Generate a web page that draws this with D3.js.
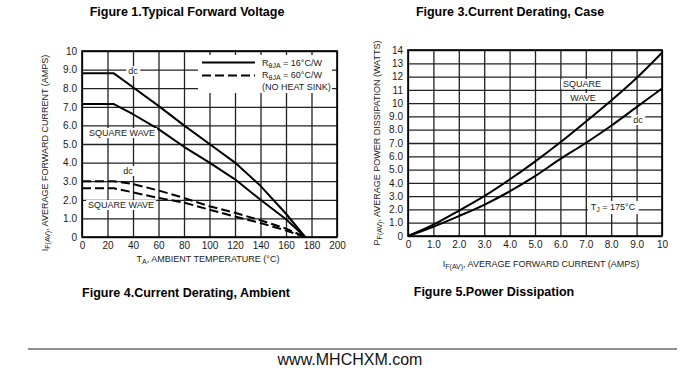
<!DOCTYPE html>
<html lang="en">
<head>
<meta charset="UTF-8">
<title>Current Derating / Power Dissipation</title>
<script src="https://d3js.org/d3.v7.min.js"></script>
<style>
    body { margin: 0; background: #fff; }
    svg { display: block; }
    text { font-family: "Liberation Sans Narrow", "Liberation Sans", Arial, sans-serif; fill: #1a1a1a; }
    .title { font-family: "Liberation Sans", Arial, sans-serif; font-weight: bold; font-size: 12.5px; fill: #000; }
    .tick text { font-size: 10px; }
    .axt { font-size: 9px; }
    .note { font-size: 9px; }
    .site { font-family: "Liberation Sans", Arial, sans-serif; font-size: 16px; fill: #111; }
</style>
</head>
<body>
<svg id="chart" width="700" height="371"></svg>
<script>
// Figure 4 - current derating, ambient
const ambientTemp = [0, 25, 40, 60, 80, 100, 120, 140, 160, 175];
const dcHeatSink = [8.8, 8.8, 8.05, 7.05, 6.0, 5.0, 4.0, 2.75, 1.25, 0];
const squareHeatSink = [7.15, 7.15, 6.6, 5.8, 4.85, 4.0, 3.1, 2.0, 0.95, 0];
const dcNoSink = [3.0, 3.0, 2.85, 2.5, 2.1, 1.65, 1.3, 0.9, 0.45, 0];
const squareNoSink = [2.62, 2.62, 2.4, 2.1, 1.85, 1.47, 1.1, 0.75, 0.35, 0];
const tempTicks = [0, 20, 40, 60, 80, 100, 120, 140, 160, 180, 200];
const ampTicks = [0, 1, 2, 3, 4, 5, 6, 7, 8, 9, 10];

// Figure 5 - power dissipation
const avgCurrent = [0, 1, 2, 3, 4, 5, 6, 7, 8, 9, 10];
const pwrSquare = [0, 0.85, 1.9, 3.0, 4.25, 5.6, 7.05, 8.6, 10.2, 11.9, 13.8];
const pwrDc = [0, 0.7, 1.5, 2.35, 3.35, 4.5, 5.8, 7.0, 8.3, 9.7, 11.1];
const wattTicks = [0, 1, 2, 3, 4, 5, 6, 7, 8, 9, 10, 11, 12, 13, 14];

const svg = d3.select("#chart");
const fmt = d => d === 0 ? "0" : (d < 10 ? d.toFixed(1) : String(d));

function drawFrame(x, y, xTicks, yTicks, xFmt, yFmt) {
    const [x0, x1] = x.range();
    const [y0, y1] = y.range();
    const g = svg.append("g");
    // grid + labels through d3 axes
    g.append("g")
        .attr("transform", `translate(0,${y0})`)
        .call(d3.axisBottom(x).tickValues(xTicks).tickFormat(xFmt).tickSize(-(y0 - y1)).tickPadding(5))
        .call(a => a.select(".domain").remove())
        .call(a => a.selectAll(".tick line").attr("stroke", "#222").attr("stroke-width", 1.3))
        .call(a => a.selectAll(".tick text").attr("fill", "#1a1a1a"));
    g.append("g")
        .attr("transform", `translate(${x0},0)`)
        .call(d3.axisLeft(y).tickValues(yTicks).tickFormat(yFmt).tickSize(-(x1 - x0)).tickPadding(5))
        .call(a => a.select(".domain").remove())
        .call(a => a.selectAll(".tick line").attr("stroke", "#222").attr("stroke-width", 1.3))
        .call(a => a.selectAll(".tick text").attr("fill", "#1a1a1a"));
    g.append("rect")
        .attr("x", x0).attr("y", y1)
        .attr("width", x1 - x0).attr("height", y0 - y1)
        .attr("fill", "none").attr("stroke", "#000").attr("stroke-width", 1.6);
    return g;
}

function label(txt, x, y, opts = {}) {
    const t = svg.append("text")
        .attr("x", x).attr("y", y)
        .attr("class", opts.cls || "note")
        .attr("text-anchor", opts.anchor || "start")
        .text(txt);
    if (opts.bg) {
        const b = t.node().getBBox();
        svg.insert("rect", () => t.node())
            .attr("x", b.x - 2).attr("y", b.y)
            .attr("width", b.width + 4).attr("height", b.height)
            .attr("fill", "#fff");
    }
    return t;
}

// text with a subscript part: [main, sub, rest]
function subText(parts, attrs) {
    const t = svg.append("text").attr("class", attrs.cls || "note")
        .attr("text-anchor", attrs.anchor || "start");
    if (attrs.transform) t.attr("transform", attrs.transform);
    else t.attr("x", attrs.x).attr("y", attrs.y);
    t.append("tspan").text(parts[0]);
    t.append("tspan").attr("dy", 2).attr("font-size", 7).text(parts[1]);
    t.append("tspan").attr("dy", -2).text(parts[2]);
    return t;
}

// ---------- Figure 4 ----------
const xA = d3.scaleLinear().domain([0, 200]).range([82, 337]);
const yA = d3.scaleLinear().domain([0, 10]).range([237, 51]);
drawFrame(xA, yA, tempTicks, ampTicks, d => String(d), fmt);

// sharp knee at 25 °C, so plain linear segments
const lineA = d3.line().x(d => xA(d[0])).y(d => yA(d[1]));
const seriesA = [
    { v: dcHeatSink, dash: null },
    { v: squareHeatSink, dash: null },
    { v: dcNoSink, dash: "9,4" },
    { v: squareNoSink, dash: "9,4" }
];
seriesA.forEach(s => {
    svg.append("path")
        .datum(ambientTemp.map((t, i) => [t, s.v[i]]))
        .attr("d", lineA)
        .attr("fill", "none")
        .attr("stroke", "#000")
        .attr("stroke-width", 2)
        .attr("stroke-linejoin", "round")
        .attr("stroke-dasharray", s.dash);
});

label("dc", 133, 74, { anchor: "middle", bg: true });
label("SQUARE WAVE", 89, 136, { bg: true });
label("dc", 128, 174, { anchor: "middle", bg: true });
label("SQUARE WAVE", 88, 208, { bg: true });

// legend
svg.append("rect").attr("x", 198).attr("y", 55).attr("width", 134).attr("height", 38).attr("fill", "#fff");
svg.append("line").attr("x1", 202).attr("x2", 255).attr("y1", 62.5).attr("y2", 62.5)
    .attr("stroke", "#000").attr("stroke-width", 2.2);
svg.append("line").attr("x1", 202).attr("x2", 255).attr("y1", 75.5).attr("y2", 75.5)
    .attr("stroke", "#000").attr("stroke-width", 2.2).attr("stroke-dasharray", "9,4");
subText(["R", "θJA", " = 16°C/W"], { x: 262, y: 66 });
subText(["R", "θJA", " = 60°C/W"], { x: 262, y: 78 });
svg.append("text").attr("class", "note").attr("x", 262).attr("y", 90).text("(NO HEAT SINK)");

// axis titles
subText(["I", "F(AV)", ", AVERAGE FORWARD CURRENT (AMPS)"],
    { cls: "axt", anchor: "middle", transform: "translate(48,153) rotate(-90)" });
subText(["T", "A", ", AMBIENT TEMPERATURE (°C)"], { cls: "axt", anchor: "middle", x: 208, y: 262 });

// ---------- Figure 5 ----------
const xB = d3.scaleLinear().domain([0, 10]).range([408, 662]);
const yB = d3.scaleLinear().domain([0, 14]).range([236, 50]);
drawFrame(xB, yB, ampTicks, wattTicks, fmt, fmt);

const lineB = d3.line().x(d => xB(d[0])).y(d => yB(d[1])).curve(d3.curveMonotoneX);
[pwrSquare, pwrDc].forEach(v => {
    svg.append("path")
        .datum(avgCurrent.map((c, i) => [c, v[i]]))
        .attr("d", lineB)
        .attr("fill", "none")
        .attr("stroke", "#000")
        .attr("stroke-width", 2);
});

label("SQUARE", 582, 87, { anchor: "middle", bg: true });
label("WAVE", 583, 101, { anchor: "middle", bg: true });
label("dc", 638, 123, { anchor: "middle", bg: true });
const tj = subText(["T", "J", " = 175°C"], { anchor: "middle", x: 613, y: 210 });
const tb = tj.node().getBBox();
svg.insert("rect", () => tj.node()).attr("x", tb.x - 3).attr("y", tb.y - 1)
    .attr("width", tb.width + 6).attr("height", tb.height + 2).attr("fill", "#fff");

subText(["P", "F(AV)", ", AVERAGE POWER DISSIPATION (WATTS)"],
    { cls: "axt", anchor: "middle", transform: "translate(380,143) rotate(-90)" });
subText(["I", "F(AV)", ", AVERAGE FORWARD CURRENT (AMPS)"], { cls: "axt", anchor: "middle", x: 541, y: 267 });

// ---------- titles & footer ----------
label("Figure 1.Typical  Forward  Voltage", 187, 16, { cls: "title", anchor: "middle" });
label("Figure 3.Current  Derating,  Case", 510, 16, { cls: "title", anchor: "middle" });
label("Figure 4.Current  Derating, Ambient", 186, 297, { cls: "title", anchor: "middle" });
label("Figure 5.Power  Dissipation", 494, 296, { cls: "title", anchor: "middle" });
svg.append("line").attr("x1", 28).attr("x2", 677).attr("y1", 349).attr("y2", 349)
    .attr("stroke", "#222").attr("stroke-width", 1.2);
label("www.MHCHXM.com", 350, 365, { cls: "site", anchor: "middle" });
</script>
</body>
</html>
